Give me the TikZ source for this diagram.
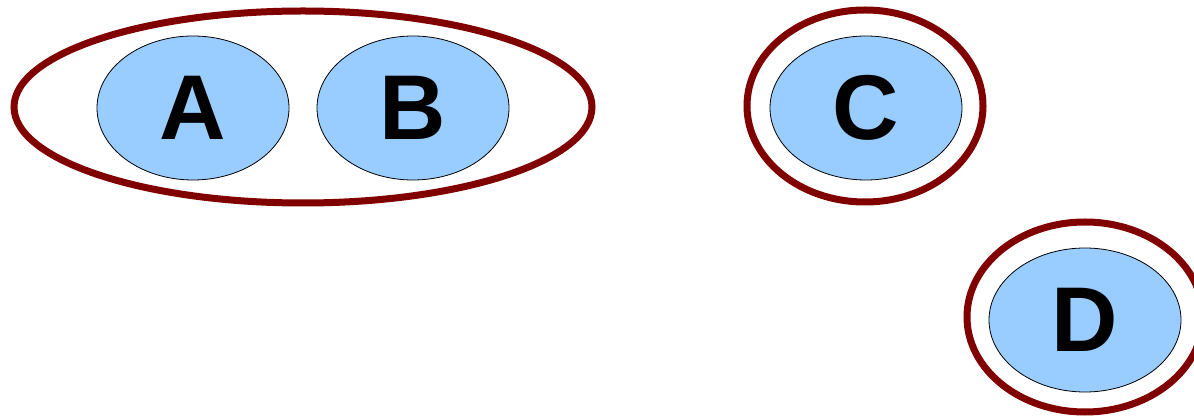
\documentclass[tikz,border=0pt]{standalone}
\usepackage{fontspec}
\setmainfont{Liberation Sans}
\usetikzlibrary{shapes.geometric}
\definecolor{ringred}{HTML}{800000}
\definecolor{setblue}{HTML}{99CCFF}
\begin{document}
\begin{tikzpicture}[x=1pt,y=-1pt,
  elem/.style={ellipse, draw=black, line width=0.8pt, fill=setblue, inner sep=0pt,
    minimum width=192pt, minimum height=144pt,
    font=\fontsize{92}{92}\selectfont\bfseries},
  ring/.style={ellipse, draw=ringred, line width=7pt, inner sep=0pt}]
\useasboundingbox (0,0) rectangle (1194,419);
\node[ring, minimum width=578pt, minimum height=192pt] (ab) at (303,107) {};
\node[ring, minimum width=236pt, minimum height=192pt] (cc) at (865,106) {};
\node[ring, minimum width=236pt, minimum height=190pt] (dd) at (1085,317) {};
\node[elem] (A) at (193,108) {A};
\node[elem] (B) at (413,108) {B};
\node[elem] (C) at (866,108) {C};
\node[elem] (D) at (1085,320) {D};
\end{tikzpicture}
\end{document}
